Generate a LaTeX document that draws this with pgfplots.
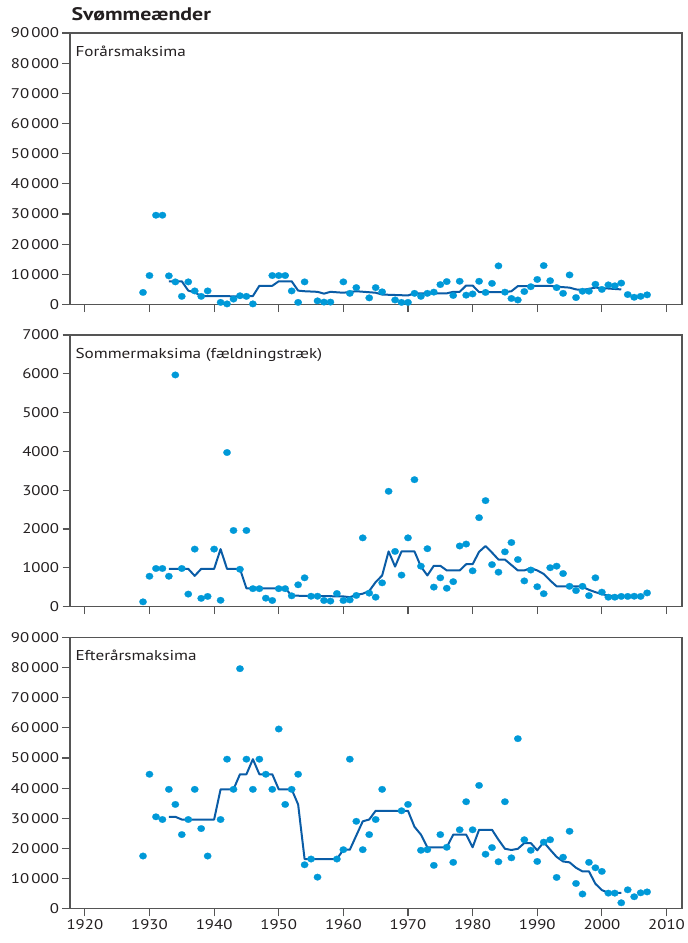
\documentclass[border=0pt]{standalone}
\usepackage{fontspec}
\setmainfont{PT Sans}[FakeStretch=1.2]
\usepackage{pgfplots}
\pgfplotsset{compat=1.18}

\definecolor{dotblue}{RGB}{0,153,216}
\definecolor{lineblue}{RGB}{10,92,166}
\definecolor{axisgray}{RGB}{85,85,85}
\definecolor{textgray}{RGB}{35,31,32}

\tikzset{plabel/.style={anchor=base west, font=\fontsize{14.3}{16}\selectfont, text=textgray}}

\pgfplotsset{
  panel/.style={
    scale only axis, width=612pt, height=271.5pt,
    xmin=1917.7, xmax=2012.4,
    xtick={1920,1930,...,2010},
    scaled y ticks=false,
    tick align=outside, xtick pos=bottom, ytick pos=left,
    major tick length=7.5pt,
    axis line style={draw=axisgray, line width=1.2pt},
    every tick/.style={draw=axisgray, line width=1.2pt},
    ticklabel style={font=\fontsize{14}{16}\selectfont, text=textgray},
    /pgf/number format/assume math mode=true,
    xticklabel style={/pgf/number format/1000 sep={}},
    yticklabel style={/pgf/number format/1000 sep={\,}},
  },
  dots/.style={only marks, color=dotblue, mark=*, mark size=3.3pt,
    mark options={solid, draw=dotblue, fill=dotblue, line width=0.2pt, xscale=1.12}},
  mean/.style={no marks, draw=lineblue, line width=2pt, line join=round},
}

\begin{document}
\begin{tikzpicture}
\useasboundingbox (0,0) rectangle (688pt,-943pt);

\node[anchor=base west, font=\bfseries\fontsize{18.2}{20}\selectfont, text=textgray]
  at (68pt,-20.7pt) {Svømmeænder};

% Spring maxima
\begin{axis}[panel, at={(70pt,-33pt)}, anchor=north west,
  ymin=0, ymax=90000, ytick={0,10000,...,90000}, xticklabels={}]
\addplot[mean] table {
1933 7700
1935 7700
1936 4600
1937 4000
1938 2800
1945 2700
1946 2800
1947 6200
1949 6200
1950 7700
1952 7700
1953 4600
1954 4400
1956 4200
1957 3600
1958 4200
1960 3900
1962 4400
1965 3900
1966 3300
1970 3000
1971 3700
1976 3700
1977 4200
1978 4200
1979 6300
1980 6300
1981 4100
1985 4100
1986 4400
1987 6100
1992 6200
1993 5900
1995 5600
1996 5000
1997 4800
1998 5200
1999 5600
2003 5000
};
\addplot[dots] table {
1929 4000
1930 9600
1931 29600
1932 29600
1933 9500
1934 7500
1935 2700
1936 7500
1937 4500
1938 2700
1939 4500
1941 700
1942 200
1943 1800
1944 2900
1945 2700
1946 200
1949 9600
1950 9600
1951 9600
1952 4500
1953 700
1954 7500
1956 1200
1957 800
1958 800
1960 7500
1961 3700
1962 5600
1964 2200
1965 5600
1966 4200
1968 1500
1969 700
1970 700
1971 3700
1972 2700
1973 3700
1974 4100
1975 6600
1976 7600
1977 3000
1978 7700
1979 3100
1980 3500
1981 7700
1982 4000
1983 7000
1984 12800
1985 4100
1986 2000
1987 1500
1988 4300
1989 5900
1990 8300
1991 12900
1992 7900
1993 5600
1994 3700
1995 9800
1996 2300
1997 4400
1998 4400
1999 6700
2000 5000
2001 6500
2002 6200
2003 7100
2004 3300
2005 2400
2006 2700
2007 3200
};
\node[plabel] at (rel axis cs:0,1) [xshift=2pt, yshift=-23.7pt] {Forårsmaksima};
\end{axis}

% Summer maxima (moulting)
\begin{axis}[panel, at={(70pt,-335pt)}, anchor=north west,
  ymin=0, ymax=7000, ytick={0,1000,...,7000}, xticklabels={},
  yticklabel style={/pgf/number format/1000 sep={}}]
\addplot[mean] table {
1933 970
1936 970
1937 790
1938 970
1940 970
1941 1480
1942 970
1944 970
1945 470
1951 470
1952 280
1960 260
1961 240
1962 300
1963 330
1964 400
1965 630
1966 800
1967 1420
1968 1030
1969 1420
1971 1420
1972 1030
1973 800
1974 1050
1975 1050
1976 930
1978 930
1979 1090
1980 1090
1981 1410
1982 1560
1983 1390
1984 1210
1985 1210
1986 1070
1987 930
1988 930
1989 990
1990 930
1991 840
1992 670
1993 520
1996 520
1997 510
1998 430
1999 370
2000 320
2001 280
2003 260
};
\addplot[dots] table {
1929 120
1930 780
1931 980
1932 980
1933 780
1934 5970
1935 980
1936 320
1937 1480
1938 210
1939 260
1940 1480
1941 160
1942 3970
1943 1960
1944 960
1945 1960
1946 460
1947 460
1948 215
1949 155
1950 460
1951 460
1952 275
1953 560
1954 740
1955 265
1956 265
1957 155
1958 140
1959 335
1960 155
1961 170
1962 285
1963 1770
1964 345
1965 240
1966 610
1967 2970
1968 1420
1969 810
1970 1770
1971 3270
1972 1040
1973 1490
1974 500
1975 740
1976 470
1977 640
1978 1560
1979 1610
1980 920
1981 2290
1982 2730
1983 1080
1984 885
1985 1410
1986 1650
1987 1210
1988 660
1989 940
1990 510
1991 330
1992 1000
1993 1040
1994 850
1995 520
1996 410
1997 520
1998 280
1999 740
2000 370
2001 240
2002 240
2003 260
2004 260
2005 265
2006 260
2007 350
};
\node[plabel] at (rel axis cs:0,1) [xshift=2pt, yshift=-23.3pt] {Sommermaksima (fældningstræk)};
\end{axis}

% Autumn maxima
\begin{axis}[panel, at={(70pt,-637.3pt)}, anchor=north west,
  ymin=0, ymax=90000, ytick={0,10000,...,90000}]
\addplot[mean] table {
1933 30500
1934 30500
1935 29600
1940 29600
1941 39600
1943 39600
1944 44600
1945 44600
1946 49600
1947 44600
1949 44600
1950 39600
1952 39600
1953 34600
1954 16500
1959 16500
1960 19600
1961 19600
1963 29000
1964 29600
1965 32500
1970 32500
1971 27200
1972 24600
1973 20400
1976 20400
1977 24600
1979 24600
1980 20400
1981 26200
1983 26200
1984 22900
1985 19900
1986 19500
1987 19900
1988 21800
1989 21800
1990 19400
1991 22100
1992 19600
1993 17200
1994 15700
1995 15400
1996 13600
1997 12400
1998 12400
1999 8300
2000 6200
2001 5300
2003 5300
};
\addplot[dots] table {
1929 17500
1930 44600
1931 30500
1932 29600
1933 39600
1934 34600
1935 24600
1936 29600
1937 39600
1938 26600
1939 17500
1941 29600
1942 49600
1943 39600
1944 79600
1945 49600
1946 39600
1947 49600
1948 44600
1949 39600
1950 59600
1951 34600
1952 39600
1953 44600
1954 14600
1955 16500
1956 10500
1959 16500
1960 19600
1961 49600
1962 29000
1963 19600
1964 24600
1965 29600
1966 39600
1969 32500
1970 34600
1972 19400
1973 19600
1974 14400
1975 24600
1976 20400
1977 15400
1978 26200
1979 35500
1980 26200
1981 40900
1982 18100
1983 20300
1984 15600
1985 35500
1986 16900
1987 56400
1988 22900
1989 19400
1990 15700
1991 22100
1992 22900
1993 10400
1994 17100
1995 25700
1996 8400
1997 4900
1998 15400
1999 13600
2000 12400
2001 5200
2002 5200
2003 2000
2004 6300
2005 4000
2006 5300
2007 5600
};
\node[plabel] at (rel axis cs:0,1) [xshift=2pt, yshift=-23.4pt] {Efterårsmaksima};
\end{axis}
\end{tikzpicture}
\end{document}
